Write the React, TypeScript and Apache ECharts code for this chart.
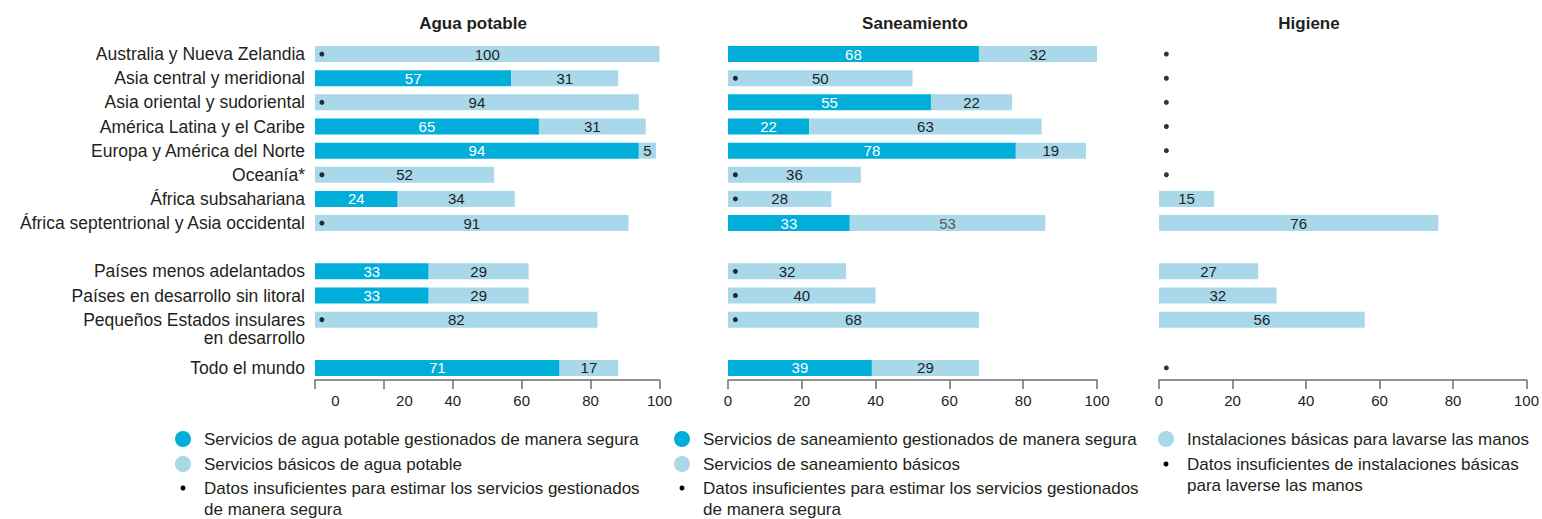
import React, { useEffect, useRef } from 'react';
import * as echarts from 'echarts';

const categories = [
  'Australia y Nueva Zelandia',
  'Asia central y meridional',
  'Asia oriental y sudoriental',
  'América Latina y el Caribe',
  'Europa y América del Norte',
  'Oceanía*',
  'África subsahariana',
  'África septentrional y Asia occidental',
  '',
  'Países menos adelantados',
  'Países en desarrollo sin litoral',
  'Pequeños Estados insulares\nen desarrollo',
  ' ',
  'Todo el mundo',
];

const panelTitles = ['Agua potable', 'Saneamiento', 'Higiene'];

// Agua potable
const aguaSegura = [null, 57, null, 65, 94, null, 24, null, null, 33, 33, null, null, 71];
const aguaBasica = [100, 31, 94, 31, 5, 52, 34, 91, null, 29, 29, 82, null, 17];
const aguaSinDatos = [1, 0, 1, 0, 0, 1, 0, 1, 0, 0, 0, 1, 0, 0];

// Saneamiento
const sanSegura = [68, null, 55, 22, 78, null, null, 33, null, null, null, null, null, 39];
const sanBasica = [32, 50, 22, 63, 19, 36, 28, 53, null, 32, 40, 68, null, 29];
const sanSinDatos = [0, 1, 0, 0, 0, 1, 1, 0, 0, 1, 1, 1, 0, 0];

// Higiene
const higBasica = [null, null, null, null, null, null, 15, 76, null, 27, 32, 56, null, null];
const higSinDatos = [1, 1, 1, 1, 1, 1, 0, 0, 0, 0, 0, 0, 0, 1];

const legendCol1 = [
  'Servicios de agua potable gestionados de manera segura',
  'Servicios básicos de agua potable',
  'Datos insuficientes para estimar los servicios gestionados\nde manera segura',
];
const legendCol2 = [
  'Servicios de saneamiento gestionados de manera segura',
  'Servicios de saneamiento básicos',
  'Datos insuficientes para estimar los servicios gestionados\nde manera segura',
];
const legendCol3 = [
  'Instalaciones básicas para lavarse las manos',
  'Datos insuficientes de instalaciones básicas\npara laverse las manos',
];

const DARK = '#00aed9';
const LIGHT = '#a8d8ea';
const TEXT = '#231f20';
const AXIS = '#6d6e71';
const FONT = '"Liberation Sans", Arial, sans-serif';

const grids = [
  { left: 315, width: 344.5 },
  { left: 728, width: 369 },
  { left: 1159, width: 369 },
];
const GRID_TOP = 42;
const GRID_H = 338;

function barSeries(name: string, data: any[], color: string, labelColor: string, idx: number) {
  return {
    type: 'bar',
    name,
    xAxisIndex: idx,
    yAxisIndex: idx,
    stack: 'p' + idx,
    barWidth: 16,
    data,
    itemStyle: { color },
    label: {
      show: true,
      position: 'inside',
      color: labelColor,
      fontSize: 15,
      fontFamily: FONT,
    },
    emphasis: { disabled: true },
  };
}

function dotSeries(name: string, flags: number[], idx: number) {
  const data: any[] = [];
  flags.forEach((f, i) => {
    if (f) data.push([2, i]);
  });
  return {
    type: 'scatter',
    name,
    xAxisIndex: idx,
    yAxisIndex: idx,
    symbol: 'circle',
    symbolSize: 5,
    itemStyle: { color: '#000' },
    data,
    z: 5,
    emphasis: { disabled: true },
  };
}

export default function App() {
  const ref = useRef<HTMLDivElement>(null);
  useEffect(() => {
    if (!ref.current) return;
    const chart = echarts.init(ref.current, undefined, { renderer: 'svg' });

    const xAxes = grids.map((g, i) => ({
      type: 'value',
      gridIndex: i,
      min: 0,
      max: 100,
      interval: 20,
      splitLine: { show: false },
      axisLine: { show: true, lineStyle: { color: AXIS, width: 1.5 } },
      axisTick: { show: true, length: 9, lineStyle: { color: AXIS, width: 1.5 } },
      axisLabel: {
        color: TEXT,
        fontSize: 15,
        fontFamily: FONT,
        margin: 13,
        formatter: (v: number) => (i === 0 && (v === 0 || v === 20) ? `{s|${v}}` : `${v}`),
        rich: { s: { padding: [0, 0, 0, 41], fontSize: 15, fontFamily: FONT, color: TEXT } },
      },
    }));

    const yAxes = grids.map((g, i) => ({
      type: 'category',
      gridIndex: i,
      inverse: true,
      data: categories,
      axisLine: { show: false },
      axisTick: { show: false },
      axisLabel: {
        show: i === 0,
        color: TEXT,
        fontSize: 17.5,
        fontFamily: FONT,
        margin: 10,
        lineHeight: 18,
        interval: 0,
        formatter: (v: string) => (v.indexOf('\n') >= 0 ? '\n' + v : v),
      },
    }));

    const legendGraphics: any[] = [];
    const addText = (x: number, y: number, text: string) =>
      legendGraphics.push({
        type: 'text',
        x,
        y,
        style: {
          text,
          fill: TEXT,
          fontSize: 17,
          fontFamily: FONT,
          lineHeight: 21,
          align: 'left',
          verticalAlign: 'top',
        },
      });
    const addCircle = (cx: number, cy: number, r: number, fill: string) =>
      legendGraphics.push({ type: 'circle', shape: { cx, cy, r }, style: { fill } });

    const rowsY = [439, 464, 488];
    [legendCol1, legendCol2].forEach((col, ci) => {
      const cx = ci === 0 ? 183 : 682;
      const tx = ci === 0 ? 204 : 703;
      addCircle(cx, rowsY[0], 8, DARK);
      addCircle(cx, rowsY[1], 8, LIGHT);
      addCircle(cx, rowsY[2], 2.5, '#000');
      col.forEach((t, k) => addText(tx, rowsY[k] - 10.5, t));
    });
    addCircle(1166, rowsY[0], 8, LIGHT);
    addCircle(1166, rowsY[1], 2.5, '#000');
    legendCol3.forEach((t, k) => addText(1187, rowsY[k] - 10.5, t));

    const titleX = [473, 915, 1309];
    const titles = panelTitles.map((t, i) => ({
      type: 'text',
      x: titleX[i],
      y: 23,
      style: {
        text: t,
        fill: TEXT,
        fontSize: 17,
        fontWeight: 'bold',
        fontFamily: FONT,
        align: 'center',
        verticalAlign: 'middle',
      },
    }));

    chart.setOption({
      animation: false,
      grid: grids.map((g) => ({ left: g.left, width: g.width, top: GRID_TOP, height: GRID_H })),
      xAxis: xAxes,
      yAxis: yAxes,
      series: [
        barSeries('Servicios de agua potable gestionados de manera segura', aguaSegura, DARK, '#fff', 0),
        barSeries('Servicios básicos de agua potable', aguaBasica, LIGHT, TEXT, 0),
        dotSeries('Agua: datos insuficientes', aguaSinDatos, 0),
        barSeries('Servicios de saneamiento gestionados de manera segura', sanSegura, DARK, '#fff', 1),
        barSeries(
          'Servicios de saneamiento básicos',
          sanBasica.map((v, i) => (i === 7 ? { value: v, label: { color: '#58595b' } } : v)),
          LIGHT,
          TEXT,
          1
        ),
        dotSeries('Saneamiento: datos insuficientes', sanSinDatos, 1),
        barSeries('Instalaciones básicas para lavarse las manos', higBasica, LIGHT, TEXT, 2),
        dotSeries('Higiene: datos insuficientes', higSinDatos, 2),
      ],
      graphic: [...titles, ...legendGraphics],
    });
    return () => chart.dispose();
  }, []);
  return (
    <div
      ref={ref}
      style={{ position: 'fixed', left: 0, top: 0, width: 1542, height: 519, background: '#fff' }}
    />
  );
}
